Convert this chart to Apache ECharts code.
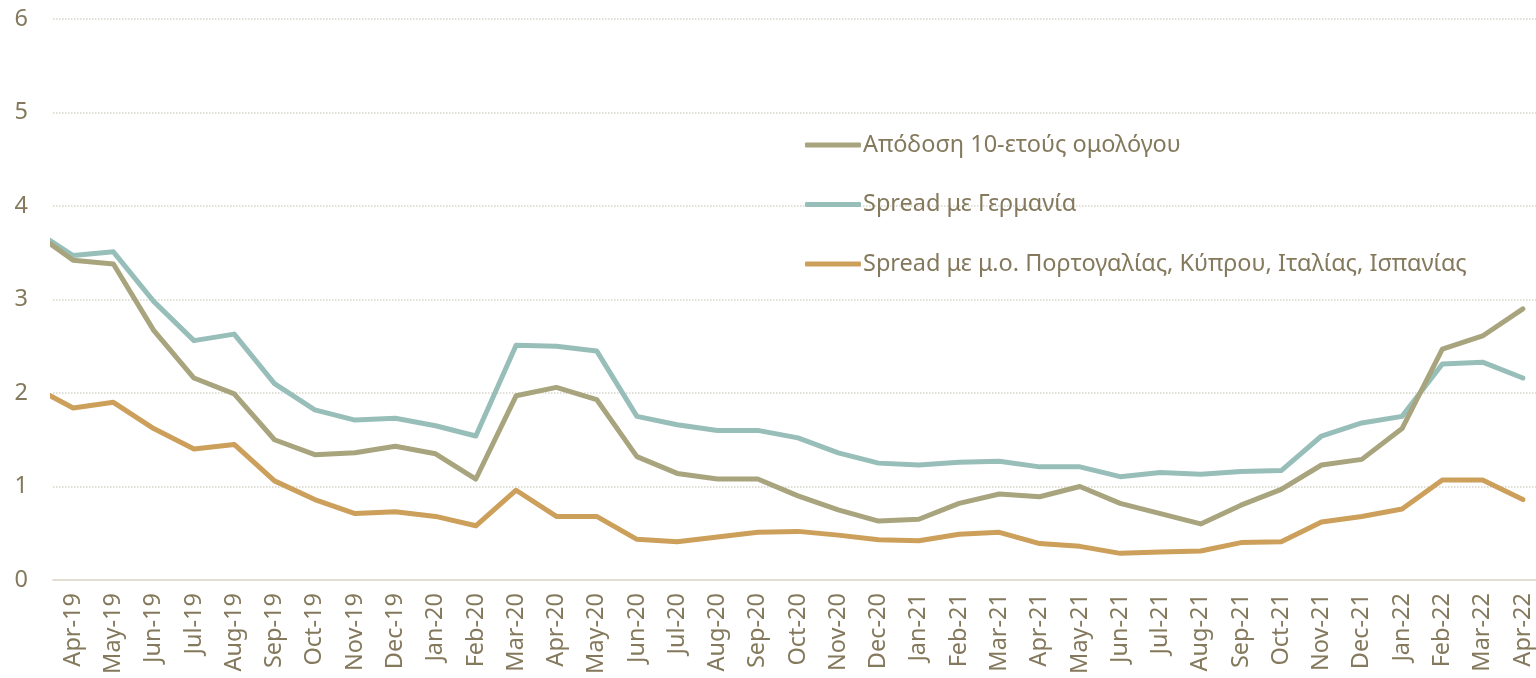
<!DOCTYPE html>
<html>
<head>
<meta charset="utf-8">
<script src="https://cdn.jsdelivr.net/npm/echarts@6/dist/echarts.min.js"></script>
<style>
  html, body { margin: 0; padding: 0; background: #ffffff; }
  #chart { width: 1536px; height: 678px; }
</style>
</head>
<body>
<div id="chart"></div>
<script>
// Monthly categories shown on the axis
const categories = [
  'Apr-19','May-19','Jun-19','Jul-19','Aug-19','Sep-19','Oct-19','Nov-19','Dec-19',
  'Jan-20','Feb-20','Mar-20','Apr-20','May-20','Jun-20','Jul-20','Aug-20','Sep-20',
  'Oct-20','Nov-20','Dec-20','Jan-21','Feb-21','Mar-21','Apr-21','May-21','Jun-21',
  'Jul-21','Aug-21','Sep-21','Oct-21','Nov-21','Dec-21','Jan-22','Feb-22','Mar-22','Apr-22'
];

// Value of the month before the first label (Mar-19); its segment is clipped at the left edge
const leadYield = 3.73;
const leadGermany = 3.75;
const leadSouth = 2.07;

// Greek 10-year bond yield (%)
const yield10y = [
  3.42, 3.38, 2.67, 2.16, 1.99, 1.50, 1.34, 1.36, 1.43,
  1.35, 1.08, 1.97, 2.06, 1.93, 1.32, 1.14, 1.08, 1.08,
  0.90, 0.75, 0.63, 0.65, 0.82, 0.92, 0.89, 1.00, 0.82,
  0.71, 0.60, 0.80, 0.97, 1.23, 1.29, 1.62, 2.47, 2.61, 2.90
];

// Spread vs Germany
const spreadGermany = [
  3.47, 3.51, 2.98, 2.56, 2.63, 2.10, 1.82, 1.71, 1.73,
  1.65, 1.54, 2.51, 2.50, 2.45, 1.75, 1.66, 1.60, 1.60,
  1.52, 1.36, 1.25, 1.23, 1.26, 1.27, 1.21, 1.21, 1.105,
  1.15, 1.13, 1.16, 1.17, 1.54, 1.68, 1.75, 2.31, 2.33, 2.16
];

// Spread vs average of Portugal, Cyprus, Italy, Spain
const spreadSouth = [
  1.84, 1.90, 1.62, 1.40, 1.45, 1.06, 0.86, 0.71, 0.73,
  0.68, 0.58, 0.96, 0.68, 0.68, 0.435, 0.41, 0.46, 0.51,
  0.52, 0.48, 0.43, 0.42, 0.49, 0.51, 0.39, 0.36, 0.285,
  0.30, 0.31, 0.40, 0.41, 0.62, 0.68, 0.76, 1.07, 1.07, 0.86
];

const yTicks = [0, 1, 2, 3, 4, 5, 6];

const names = [
  'Απόδοση 10-ετούς ομολόγου',
  'Spread με Γερμανία',
  'Spread με μ.ο. Πορτογαλίας, Κύπρου, Ιταλίας, Ισπανίας'
];
const colors = ['#A8A47D', '#98BEBA', '#CC9F5A'];
const textColor = '#84795C';
const font = 'Noto Sans';

// Pair each value with its position on the hidden numeric x axis (index -1 is the lead month)
function toPoints(lead, arr) {
  const pts = [[-1, lead]];
  arr.forEach((v, i) => pts.push([i, v]));
  return pts;
}

const chart = echarts.init(document.getElementById('chart'), null, { renderer: 'canvas' });

chart.setOption({
  backgroundColor: '#ffffff',
  animation: false,
  textStyle: { fontFamily: font },
  grid: { left: 53, top: 19, right: -7, bottom: 98, containLabel: false, outerBoundsMode: 'none' },
  legend: {
    orient: 'vertical',
    left: 805,
    top: 133,
    padding: 0,
    itemWidth: 56,
    itemHeight: 5,
    itemGap: 35.5,
    icon: 'roundRect',
    textStyle: { color: textColor, fontSize: 23.5, lineHeight: 24, fontFamily: font, padding: [0, 0, 0, -3] },
    data: names
  },
  xAxis: [
    {
      type: 'value',
      min: -0.5,
      max: 36.5,
      show: false
    },
    {
      type: 'category',
      data: categories,
      boundaryGap: true,
      position: 'bottom',
      axisLine: { show: true, lineStyle: { color: '#E2DFD2', width: 2 } },
      axisTick: { show: false },
      axisLabel: {
        rotate: 90,
        interval: 0,
        margin: 13,
        color: textColor,
        fontSize: 23.5,
        fontFamily: font
      },
      splitLine: { show: false }
    }
  ],
  yAxis: {
    type: 'value',
    min: yTicks[0],
    max: yTicks[yTicks.length - 1],
    interval: 1,
    axisLine: { show: false },
    axisTick: { show: false },
    axisLabel: { color: textColor, fontSize: 23.5, fontFamily: font, margin: 25 },
    splitLine: { show: true, lineStyle: { color: '#D8D6CB', type: 'dotted', width: 1.5 } }
  },
  series: [
    {
      name: names[0], type: 'line', xAxisIndex: 0, z: 4,
      data: toPoints(leadYield, yield10y),
      symbol: 'none', clip: true,
      lineStyle: { color: colors[0], width: 5, cap: 'round', join: 'round' },
      itemStyle: { color: colors[0] }
    },
    {
      name: names[1], type: 'line', xAxisIndex: 0, z: 3,
      data: toPoints(leadGermany, spreadGermany),
      symbol: 'none', clip: true,
      lineStyle: { color: colors[1], width: 5, cap: 'round', join: 'round' },
      itemStyle: { color: colors[1] }
    },
    {
      name: names[2], type: 'line', xAxisIndex: 0, z: 2,
      data: toPoints(leadSouth, spreadSouth),
      symbol: 'none', clip: true,
      lineStyle: { color: colors[2], width: 5, cap: 'round', join: 'round' },
      itemStyle: { color: colors[2] }
    }
  ]
});
</script>
</body>
</html>
